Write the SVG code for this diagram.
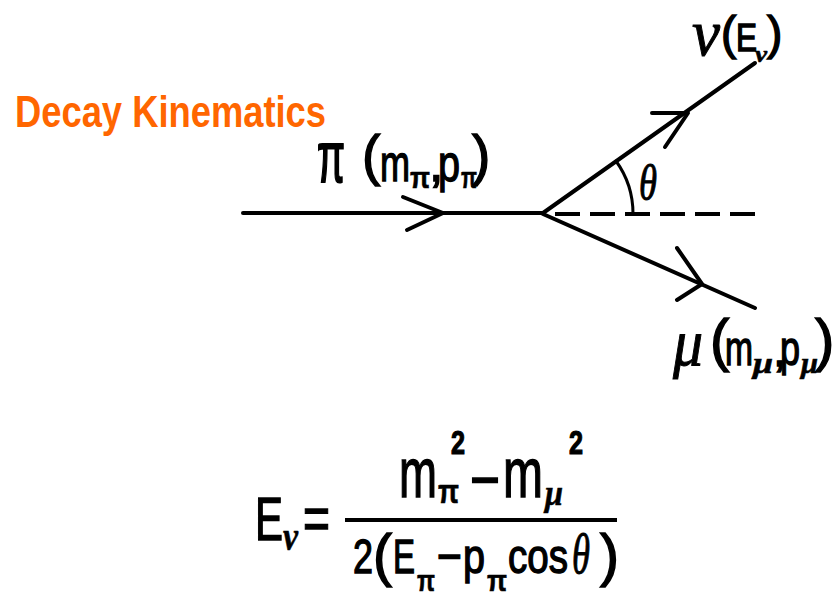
<svg xmlns="http://www.w3.org/2000/svg" width="834" height="596" viewBox="0 0 834 596">
<style>
.s{font-family:"Liberation Sans",Arial,sans-serif;fill:#000;stroke:#000;stroke-width:1.4}
.g{font-family:"Liberation Serif","Times New Roman",serif;font-style:italic;fill:#000;stroke:#000;stroke-width:1}
.b{font-weight:bold;stroke-width:0.6}
.sup{font-weight:bold;stroke-width:1.2}
.ln{stroke:#000;stroke-width:4;fill:none;stroke-linecap:round;stroke-linejoin:round}
</style>
<rect width="834" height="596" fill="#fff"/>
<text id="title" x="15" y="127" font-family="Liberation Sans, Arial, sans-serif" font-weight="bold" font-size="44" fill="#FF6600" textLength="311" lengthAdjust="spacingAndGlyphs">Decay Kinematics</text>
<g id="connectors">
<path class="ln" d="M243 213 L543 213"/>
<path class="ln" d="M403 197 L443 213 L407 230"/>
<path class="ln" d="M543 213 L755 63"/>
<path class="ln" d="M652 113 L688 113 L665 147"/>
<path d="M755 214 L543 214" stroke="#000" stroke-width="4" stroke-dasharray="25 10" fill="none"/>
<path class="ln" d="M616 161 A90 90 0 0 1 633 214" style="stroke-width:3"/>
<path class="ln" d="M543 214 L755 308"/>
<path class="ln" d="M677 248 L702 284 L677 300"/>
</g>
<g id="pion-label">
<text class="s" font-size="52" textLength="28" lengthAdjust="spacingAndGlyphs" transform="translate(317,182) scale(1,1.4)">π</text>
<text class="s" x="362" y="174" font-size="55">(</text>
<text class="s" x="380" y="181" font-size="52" textLength="30" lengthAdjust="spacingAndGlyphs">m</text>
<text class="s b" x="410" y="188" font-size="30" textLength="20" lengthAdjust="spacingAndGlyphs">π</text>
<text class="s" x="429" y="181" font-size="52">,</text>
<text class="s" x="438" y="181" font-size="52" textLength="22" lengthAdjust="spacingAndGlyphs">p</text>
<text class="s b" x="461" y="188" font-size="30" textLength="16" lengthAdjust="spacingAndGlyphs">π</text>
<text class="s" x="472" y="174" font-size="55">)</text>
</g>
<g id="neutrino-label">
<text class="g" x="692" y="55" font-size="66" textLength="28" lengthAdjust="spacingAndGlyphs">ν</text>
<text class="s" x="721" y="49" font-size="46">(</text>
<text class="s" x="736" y="51" font-size="38" textLength="21" lengthAdjust="spacingAndGlyphs">E</text>
<text class="g b" x="755" y="62" font-size="24" textLength="12" lengthAdjust="spacingAndGlyphs">ν</text>
<text class="s" x="767" y="49" font-size="46">)</text>
</g>
<g id="theta-label">
<text class="g" x="639" y="200" font-size="50" textLength="18" lengthAdjust="spacingAndGlyphs">θ</text>
</g>
<g id="muon-label">
<text class="g" x="673" y="365" font-size="66" textLength="30" lengthAdjust="spacingAndGlyphs">μ</text>
<text class="s" x="710" y="360" font-size="58">(</text>
<text class="s" x="725" y="365" font-size="48" textLength="28" lengthAdjust="spacingAndGlyphs">m</text>
<text class="g b" x="753" y="373" font-size="30" textLength="20" lengthAdjust="spacingAndGlyphs">μ</text>
<text class="s" x="773" y="366" font-size="48">,</text>
<text class="s" x="780" y="365" font-size="48" textLength="20" lengthAdjust="spacingAndGlyphs">p</text>
<text class="g b" x="801" y="373" font-size="30" textLength="17" lengthAdjust="spacingAndGlyphs">μ</text>
<text class="s" x="815" y="360" font-size="58">)</text>
</g>
<g id="equation">
<text class="s" x="255" y="540" font-size="62" textLength="28" lengthAdjust="spacingAndGlyphs">E</text>
<text class="g b" x="283" y="550" font-size="40" textLength="15" lengthAdjust="spacingAndGlyphs">ν</text>
<text class="s" x="303" y="539" font-size="62" textLength="27" lengthAdjust="spacingAndGlyphs">=</text>
<rect x="345" y="518" width="272" height="4" fill="#000"/>
<text class="s" x="399" y="497" font-size="70" textLength="38" lengthAdjust="spacingAndGlyphs">m</text>
<text class="s b" x="438" y="503" font-size="34" textLength="21" lengthAdjust="spacingAndGlyphs">π</text>
<text class="s sup" x="451" y="454" font-size="33" textLength="14" lengthAdjust="spacingAndGlyphs">2</text>
<text class="s" x="470" y="501" font-size="62" textLength="30" lengthAdjust="spacingAndGlyphs">−</text>
<text class="s" x="503" y="497" font-size="70" textLength="40" lengthAdjust="spacingAndGlyphs">m</text>
<text class="g b" x="545" y="505" font-size="36" textLength="18" lengthAdjust="spacingAndGlyphs">μ</text>
<text class="s sup" x="569" y="454" font-size="33" textLength="14" lengthAdjust="spacingAndGlyphs">2</text>
<text class="s" x="353" y="573" font-size="49" textLength="20" lengthAdjust="spacingAndGlyphs">2</text>
<text class="s" x="373" y="575" font-size="57">(</text>
<text class="s" x="393" y="573" font-size="49" textLength="22" lengthAdjust="spacingAndGlyphs">E</text>
<text class="s b" x="417" y="591" font-size="30" textLength="18" lengthAdjust="spacingAndGlyphs">π</text>
<text class="s" x="437" y="573" font-size="49" textLength="25" lengthAdjust="spacingAndGlyphs">−</text>
<text class="s" x="463" y="573" font-size="49" textLength="22" lengthAdjust="spacingAndGlyphs">p</text>
<text class="s b" x="487" y="591" font-size="30" textLength="20" lengthAdjust="spacingAndGlyphs">π</text>
<text class="s" x="508" y="573" font-size="49" textLength="60" lengthAdjust="spacingAndGlyphs">cos</text>
<text class="g" x="572" y="573" font-size="57" textLength="18" lengthAdjust="spacingAndGlyphs">θ</text>
<text class="s" x="600" y="575" font-size="57">)</text>
</g>
</svg>
